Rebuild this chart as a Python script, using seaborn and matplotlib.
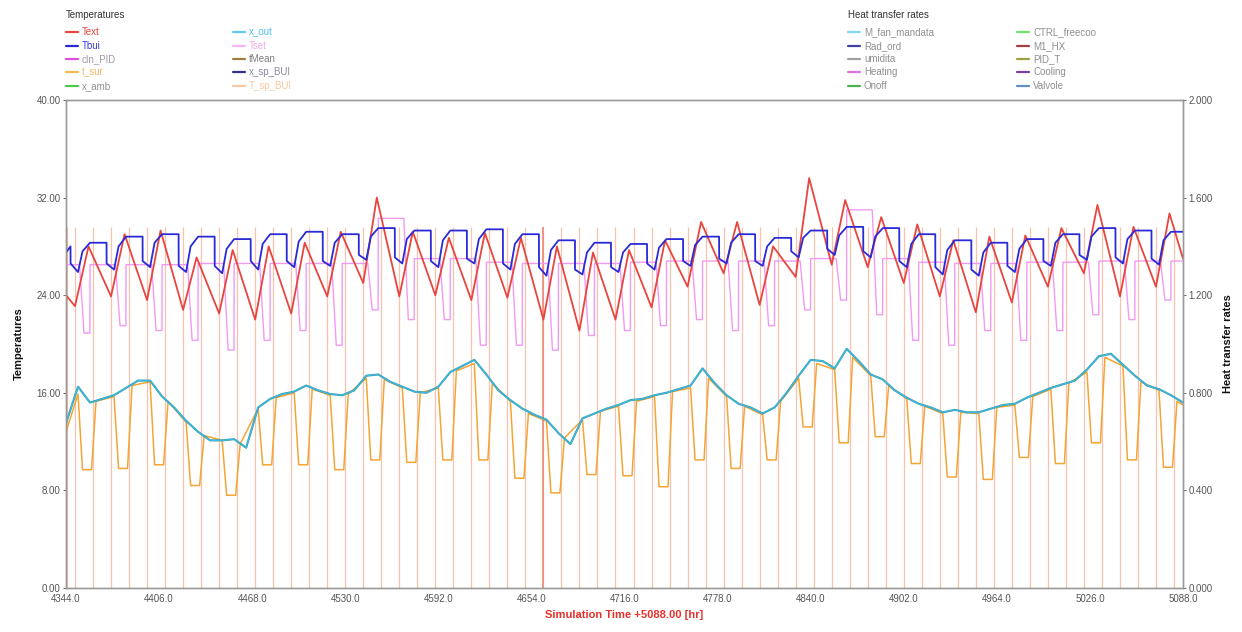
import matplotlib
matplotlib.use("Agg")
import matplotlib.pyplot as plt
from matplotlib.lines import Line2D
from matplotlib.ticker import FormatStrFormatter
import numpy as np
import pandas as pd
import seaborn as sns

sns.set_theme(style="white")
plt.rcParams["font.family"] = ["Liberation Sans", "DejaVu Sans"]

# ---------------- data ----------------
T0 = 4344.0
T_END = 5088.0
x_ticks = [4344, 4406, 4468, 4530, 4592, 4654, 4716, 4778, 4840, 4902, 4964, 5026, 5088]
y_ticks_left = [0, 8, 16, 24, 32, 40]
y_ticks_right = [0.0, 0.4, 0.8, 1.2, 1.6, 2.0]

# Text (outdoor temperature): daily minimum (~06h) and maximum (~15h)
text_min = [23.1, 23.9, 23.6, 22.8, 22.5, 22.0, 22.5, 23.9, 25.0, 23.9, 24.0, 23.6, 23.8, 22.0, 21.1, 22.0,
            23.0, 24.7, 25.8, 23.2, 25.5, 26.5, 26.3, 25.0, 23.9, 22.6, 23.4, 24.7, 25.8, 23.9, 24.7]
text_max = [28.0, 29.0, 29.3, 27.1, 27.7, 28.0, 28.3, 29.2, 32.0, 29.2, 28.7, 29.1, 28.7, 28.0, 27.5, 27.7,
            28.5, 30.0, 30.0, 28.0, 33.6, 31.8, 30.4, 29.8, 28.5, 28.8, 28.9, 29.5, 31.4, 29.6, 30.7]
text_start, text_end = 24.0, 27.0

# Tbui: plateau top, value after the sharp drop (~03h), daily low (~08h), mid-rise (~11h)
tbui_top = [28.3, 28.8, 29.0, 28.8, 28.6, 29.0, 29.2, 29.0, 29.5, 29.3, 29.3, 29.4, 29.0, 28.5, 28.3, 28.2,
            28.6, 28.8, 29.0, 28.7, 29.3, 29.6, 29.5, 29.0, 28.5, 28.3, 28.6, 29.0, 29.5, 29.3, 29.2]
tbui_drop = [26.6, 26.6, 26.8, 26.4, 26.4, 26.8, 26.8, 26.8, 27.3, 27.1, 26.8, 27.0, 26.6, 26.3, 26.1, 26.3,
             26.6, 26.8, 27.0, 26.8, 27.6, 27.8, 27.6, 26.8, 26.3, 26.1, 26.4, 26.8, 27.3, 27.1, 27.0]
tbui_low = [25.9, 26.1, 26.3, 25.9, 25.8, 26.1, 26.3, 26.4, 26.9, 26.6, 26.3, 26.6, 26.1, 25.6, 25.7, 25.9,
            26.1, 26.4, 26.6, 26.4, 27.1, 27.3, 27.1, 26.3, 25.7, 25.6, 25.9, 26.4, 26.9, 26.6, 26.5]
tbui_mid = [27.6, 28.0, 28.3, 28.0, 27.8, 28.2, 28.4, 28.3, 28.8, 28.6, 28.5, 28.6, 28.2, 27.7, 27.5, 27.5,
            27.9, 28.1, 28.3, 28.0, 28.7, 28.9, 28.8, 28.2, 27.7, 27.5, 27.8, 28.3, 28.8, 28.6, 28.5]
tbui_start = [27.5, 28.0]

# Tset (pink): level outside the daily dip and dip bottom
tset_hi = [26.5, 26.5, 26.5, 26.6, 26.6, 26.6, 26.6, 26.6, 30.3, 27.0, 27.0, 26.7, 26.6, 26.6, 26.6, 26.7,
           26.8, 26.8, 26.8, 26.8, 27.0, 31.0, 27.0, 26.7, 26.6, 26.6, 26.7, 26.7, 26.8, 26.8, 26.8]
tset_lo = [20.9, 21.5, 21.1, 20.3, 19.5, 20.3, 21.1, 19.9, 22.8, 22.0, 22.0, 19.9, 19.9, 19.5, 20.7, 21.1,
           21.5, 22.0, 21.1, 21.5, 22.8, 23.6, 22.4, 20.3, 19.9, 21.1, 20.3, 21.1, 22.4, 22.0, 23.6]

# t_sur (orange): level at 08h, dip bottom, level at 20h
tsur_b8 = [15.9, 15.7, 16.9, 13.6, 12.1, 14.7, 16.0, 15.8, 17.2, 16.4, 16.4, 18.4, 15.3, 13.7, 13.8, 14.9,
           15.7, 16.4, 15.7, 14.2, 17.2, 17.9, 17.4, 15.5, 14.3, 14.3, 15.0, 16.3, 17.7, 18.2, 16.2]
tsur_dip = [9.7, 9.8, 10.1, 8.4, 7.6, 10.1, 10.1, 9.7, 10.5, 10.3, 10.5, 10.5, 9.0, 7.8, 9.3, 9.2,
            8.3, 10.5, 9.8, 10.5, 13.2, 11.9, 12.4, 10.2, 9.1, 8.9, 10.7, 10.2, 11.9, 10.5, 9.9]
tsur_b20 = [15.3, 16.6, 15.3, 12.5, 11.8, 15.6, 16.3, 15.9, 17.1, 16.0, 17.8, 16.8, 14.3, 12.3, 14.5, 15.3,
            16.1, 17.2, 14.9, 15.3, 18.4, 18.9, 16.6, 14.9, 14.4, 14.8, 15.7, 16.8, 18.9, 16.9, 15.3]
tsur_start, tsur_end = 12.8, 15.0

# x_out (light blue), sampled every 8 h from 4344 to 5088
xout_vals = [13.5, 16.5, 15.2, 15.5, 15.8, 16.4, 17.0, 17.0, 15.7, 14.8, 13.7, 12.8, 12.1, 12.1, 12.2, 11.5,
             14.8, 15.5, 15.9, 16.1, 16.6, 16.2, 15.9, 15.8, 16.2, 17.4, 17.5, 16.9, 16.5, 16.1, 16.0, 16.5,
             17.7, 18.2, 18.7, 17.5, 16.2, 15.4, 14.7, 14.2, 13.8, 12.7, 11.8, 13.9, 14.3, 14.7, 15.0, 15.4,
             15.5, 15.8, 16.0, 16.3, 16.6, 18.0, 16.8, 15.8, 15.1, 14.8, 14.3, 14.8, 16.0, 17.4, 18.7, 18.6,
             18.0, 19.6, 18.6, 17.5, 17.1, 16.2, 15.6, 15.1, 14.8, 14.4, 14.6, 14.4, 14.4, 14.7, 15.0, 15.1,
             15.6, 16.0, 16.4, 16.7, 17.0, 17.9, 19.0, 19.2, 18.3, 17.4, 16.6, 16.3, 15.8, 15.2]

# heat-rate spikes (right axis), at 06h and 18h each day
spike_height = 1.48
spike_dark_hour = 4662.0

legend_left_c1 = ["Text", "Tbui", "cIn_PID", "t_sur", "x_amb"]
legend_left_c2 = ["x_out", "Tset", "tMean", "x_sp_BUI", "T_sp_BUI"]
legend_right_c1 = ["M_fan_mandata", "Rad_ord", "umidita", "Heating", "Onoff"]
legend_right_c2 = ["CTRL_freecoo", "M1_HX", "PID_T", "Cooling", "Valvole"]

# ---------------- series assembly ----------------
n_days = len(text_min)

th, tv = [T0], [text_start]
for d in range(n_days):
    th += [T0 + 24 * d + 6, T0 + 24 * d + 15]
    tv += [text_min[d], text_max[d]]
th.append(T_END); tv.append(text_end)

bh, bv = [T0, T0 + 3], list(tbui_start)
for d in range(n_days):
    if d > 0:
        bh.append(T0 + 24 * d + 3); bv.append(tbui_top[d - 1])
    bh += [T0 + 24 * d + 3.05, T0 + 24 * d + 8, T0 + 24 * d + 11, T0 + 24 * d + 16]
    bv += [tbui_drop[d], tbui_low[d], tbui_mid[d], tbui_top[d]]
bh.append(T_END); bv.append(tbui_top[-1])

ph, pv = [T0], [tset_hi[0]]
prev = tset_hi[0]
for d in range(n_days):
    ph += [T0 + 24 * d + 9, T0 + 24 * d + 12, T0 + 24 * d + 15.9, T0 + 24 * d + 16]
    pv += [prev, tset_lo[d], tset_lo[d], tset_hi[d]]
    prev = tset_hi[d]
ph.append(T_END); pv.append(prev)

oh, ov = [T0], [tsur_start]
for d in range(n_days):
    oh += [T0 + 24 * d + 8, T0 + 24 * d + 11, T0 + 24 * d + 17, T0 + 24 * d + 20]
    ov += [tsur_b8[d], tsur_dip[d], tsur_dip[d], tsur_b20[d]]
oh.append(T_END); ov.append(tsur_end)

xh = [T0 + 8 * k for k in range(len(xout_vals))]

spike_hours = [T0 + 0.5]
for d in range(n_days):
    spike_hours += [T0 + 24 * d + 6, T0 + 24 * d + 18]
spike_vals = [spike_height] * len(spike_hours)

df_text = pd.DataFrame({"t": th, "v": tv})
df_tbui = pd.DataFrame({"t": bh, "v": bv})
df_tset = pd.DataFrame({"t": ph, "v": pv})
df_tsur = pd.DataFrame({"t": oh, "v": ov})
df_xout = pd.DataFrame({"t": xh, "v": xout_vals})

# ---------------- figure ----------------
W, H = 1242, 632
fig = plt.figure(figsize=(W / 100, H / 100), dpi=100)
L, R, TOP, BOT = 66, 1183, 100, 588
ax = fig.add_axes([L / W, 1 - BOT / H, (R - L) / W, (BOT - TOP) / H])
ax2 = ax.twinx()

C_TEXT = "#e8453f"
C_TBUI = "#2a2ad8"
C_TSET = "#f29af2"
C_TSUR = "#f4a534"
C_XOUT = "#3cb8ea"
C_TEAL = "#3a9a98"
C_SPIKE = "#f9c2ae"

ax2.vlines(spike_hours, 0, spike_vals, color=C_SPIKE, lw=0.9, zorder=1)
ax2.vlines([spike_dark_hour], 0, [spike_height], color="#f08070", lw=1.1, zorder=1)

kw = dict(x="t", y="v", ax=ax, sort=False, estimator=None, legend=False)
sns.lineplot(data=df_tsur, color=C_TSUR, lw=1.1, **kw)
sns.lineplot(data=df_xout, color=C_TEAL, lw=1.5, **kw)
sns.lineplot(data=df_xout, color=C_XOUT, lw=0.9, **kw)
sns.lineplot(data=df_tset, color=C_TSET, lw=1.0, **kw)
sns.lineplot(data=df_text, color=C_TEXT, lw=1.3, **kw)
sns.lineplot(data=df_tbui, color=C_TBUI, lw=1.3, **kw)

ax.set_zorder(ax2.get_zorder() + 1)
ax.patch.set_visible(False)

ax.set_xlim(T0, T_END)
ax.set_ylim(0, 40)
ax2.set_ylim(0, 2.0)
ax.set_xticks(x_ticks)
ax.set_yticks(y_ticks_left)
ax2.set_yticks(y_ticks_right)
ax.xaxis.set_major_formatter(FormatStrFormatter("%.1f"))
ax.yaxis.set_major_formatter(FormatStrFormatter("%.2f"))
ax2.yaxis.set_major_formatter(FormatStrFormatter("%.3f"))
for a in (ax, ax2):
    a.tick_params(labelsize=7, colors="#555555", length=2, width=0.6, pad=2)
    for s in a.spines.values():
        s.set_color("#9a9a9a"); s.set_linewidth(1.0)
    a.grid(False)

ax.set_xlabel("Simulation Time +5088.00 [hr]", color="#e8302a", fontsize=8, fontweight="bold", labelpad=5)
ax.set_ylabel("Temperatures", fontsize=8, fontweight="bold", color="#111111", labelpad=9)
ax2.set_ylabel("Heat transfer rates", fontsize=8, fontweight="bold", color="#111111", labelpad=7, rotation=90)

# ---------------- legends ----------------
def fx(px):
    return px / W

def fy(py):
    return 1 - py / H

rows = [32, 46, 59, 72, 86]

def legend_block(x_title, title, cols):
    if title:
        fig.text(fx(x_title), fy(15), title, fontsize=7, color="#333333", va="center", ha="left")
    for (xl, names, lcols, tcols) in cols:
        for r, name, lc, tc in zip(rows, names, lcols, tcols):
            fig.add_artist(Line2D([fx(xl), fx(xl + 12)], [fy(r), fy(r)], transform=fig.transFigure,
                                  color=lc, lw=1.6))
            fig.text(fx(xl + 16), fy(r), name, fontsize=7, color=tc, va="center", ha="left")

legend_block(66, "Temperatures", [
    (66, legend_left_c1,
     ["#e8453f", "#2a2ad8", "#e04ce0", "#f4b850", "#4ccc4c"],
     ["#e8453f", "#3a3ae0", "#a898a8", "#f0b860", "#909090"]),
    (233, legend_left_c2,
     ["#60c8f0", "#f8b4f8", "#a08040", "#303090", "#f8c8a0"],
     ["#50c0f0", "#f0a8f0", "#808080", "#8888a0", "#f8c8a0"]),
])
legend_block(848, "Heat transfer rates", [
    (848, legend_right_c1,
     ["#80d8f8", "#4040a0", "#a0a0a0", "#e070e0", "#50b050"],
     ["#909090"] * 5),
    (1017, legend_right_c2,
     ["#70e070", "#a04040", "#a0a040", "#8040a0", "#6090c0"],
     ["#909090"] * 5),
])

fig.savefig("out.png", dpi=100)
